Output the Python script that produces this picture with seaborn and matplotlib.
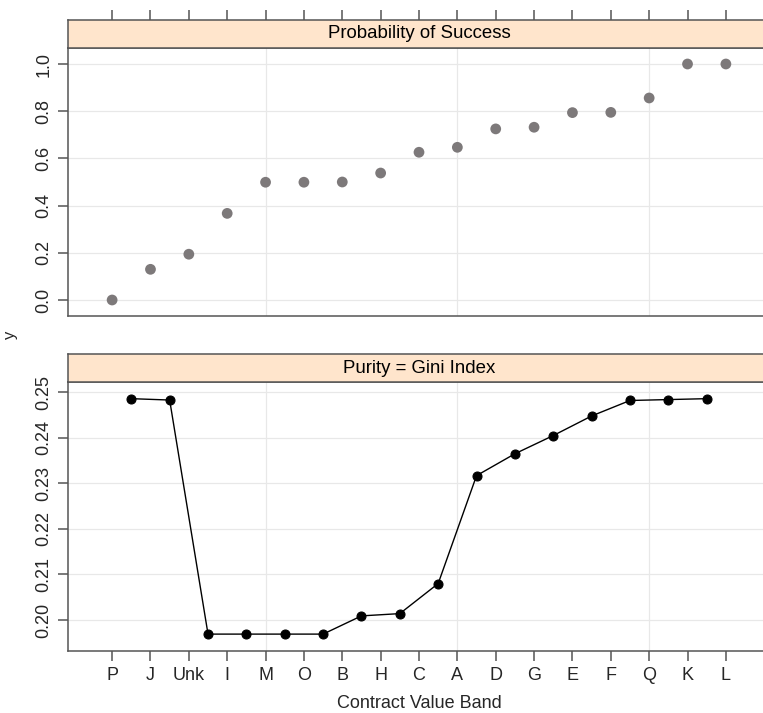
import matplotlib
matplotlib.use("Agg")
import matplotlib.pyplot as plt
import seaborn as sns
import numpy as np
import pandas as pd

# ---- data ----
categories = ["P", "J", "Unk", "I", "M", "O", "B", "H", "C", "A", "D", "G", "E", "F", "Q", "K", "L"]
prob_success = [0.0, 0.130, 0.194, 0.367, 0.499, 0.499, 0.500, 0.538, 0.626, 0.647,
                0.725, 0.732, 0.794, 0.795, 0.856, 1.0, 1.0]
gini_index = [0.2486, 0.2483, 0.1969, 0.1969, 0.1969, 0.1969, 0.2009, 0.2014,
              0.2080, 0.2317, 0.2365, 0.2405, 0.2448, 0.2482, 0.2484, 0.2486]
top_yticks = [0.0, 0.2, 0.4, 0.6, 0.8, 1.0]
bottom_yticks = [0.20, 0.21, 0.22, 0.23, 0.24, 0.25]
top_title = "Probability of Success"
bottom_title = "Purity = Gini Index"
x_label = "Contract Value Band"
y_label = "y"

sns.set_style("white")
plt.rcParams["font.family"] = ["Liberation Sans", "DejaVu Sans"]

W, H = 763, 713
fig = plt.figure(figsize=(W / 100, H / 100), dpi=100)

def frac_rect(x0, y0, x1, y1):
    return [x0 / W, 1 - y1 / H, (x1 - x0) / W, (y1 - y0) / H]

border = "#555555"
blw = 1.1
grid_c = "#e8e8e8"
strip_c = "#ffe5cc"
fs = 13

xpos = np.arange(len(categories))
xlim = (-1.15, len(categories) - 1 + 1.15)
vgrid = [4, 9, 14]

df_top = pd.DataFrame({"x": xpos, "y": prob_success})
df_bot = pd.DataFrame({"x": xpos[:-1] + 0.5, "y": gini_index})

ax1 = fig.add_axes(frac_rect(68, 48, 770, 316))
ax1s = fig.add_axes(frac_rect(68, 20, 770, 48))
ax2 = fig.add_axes(frac_rect(68, 382, 770, 651))
ax2s = fig.add_axes(frac_rect(68, 354, 770, 382))

def style_panel(ax, yticks, ylim):
    ax.set_xlim(*xlim)
    ax.set_ylim(*ylim)
    for v in vgrid:
        ax.axvline(v, color=grid_c, lw=0.9, zorder=0)
    for t in yticks:
        ax.axhline(t, color=grid_c, lw=0.9, zorder=0)
    for s in ax.spines.values():
        s.set_color(border)
        s.set_linewidth(blw)
    ax.set_yticks(yticks)
    ax.tick_params(axis="y", direction="out", length=7.2, width=blw, color=border,
                   labelsize=fs, pad=4, labelrotation=90, left=True)
    ax.set_ylabel("")

def style_strip(ax, title):
    ax.set_xlim(*xlim)
    ax.set_ylim(0, 1)
    ax.set_facecolor(strip_c)
    for s in ax.spines.values():
        s.set_color(border)
        s.set_linewidth(blw)
    ax.set_yticks([])
    ax.text(0.5, 0.5, title, transform=ax.transAxes, ha="center", va="center",
            fontsize=13.4, color="black")

# top panel
sns.scatterplot(data=df_top, x="x", y="y", ax=ax1, color="#7d797a", s=60,
                edgecolor="none", zorder=3)
style_panel(ax1, top_yticks, (-0.0678, 1.0678))
ax1.set_yticklabels([f"{t:.1f}" for t in top_yticks])
for lab in ax1.get_yticklabels():
    lab.set_va("center")
ax1.set_xticks([])
ax1.set_xlabel("")

style_strip(ax1s, top_title)
ax1s.set_xticks(xpos)
ax1s.tick_params(axis="x", top=True, bottom=False, labeltop=False, labelbottom=False,
                 direction="out", length=7.2, width=blw, color=border)

# bottom panel
sns.lineplot(data=df_bot, x="x", y="y", ax=ax2, color="black", lw=1.0,
             marker="o", markersize=6.5, markeredgecolor="black", zorder=3)
style_panel(ax2, bottom_yticks, (0.19319, 0.25226))
ax2.set_yticklabels([f"{t:.2f}" for t in bottom_yticks])
for lab in ax2.get_yticklabels():
    lab.set_va("center")
ax2.set_xticks(xpos)
ax2.set_xticklabels(categories)
ax2.tick_params(axis="x", bottom=True, direction="out", length=7.2, width=blw,
                color=border, labelsize=fs, pad=4)
ax2.set_xlabel(x_label, fontsize=fs, labelpad=8)

style_strip(ax2s, bottom_title)
ax2s.set_xticks([])

fig.text(10 / W, 1 - 335 / H, y_label, rotation=90, ha="center", va="center",
         fontsize=12)

fig.savefig("out.png", dpi=100)
